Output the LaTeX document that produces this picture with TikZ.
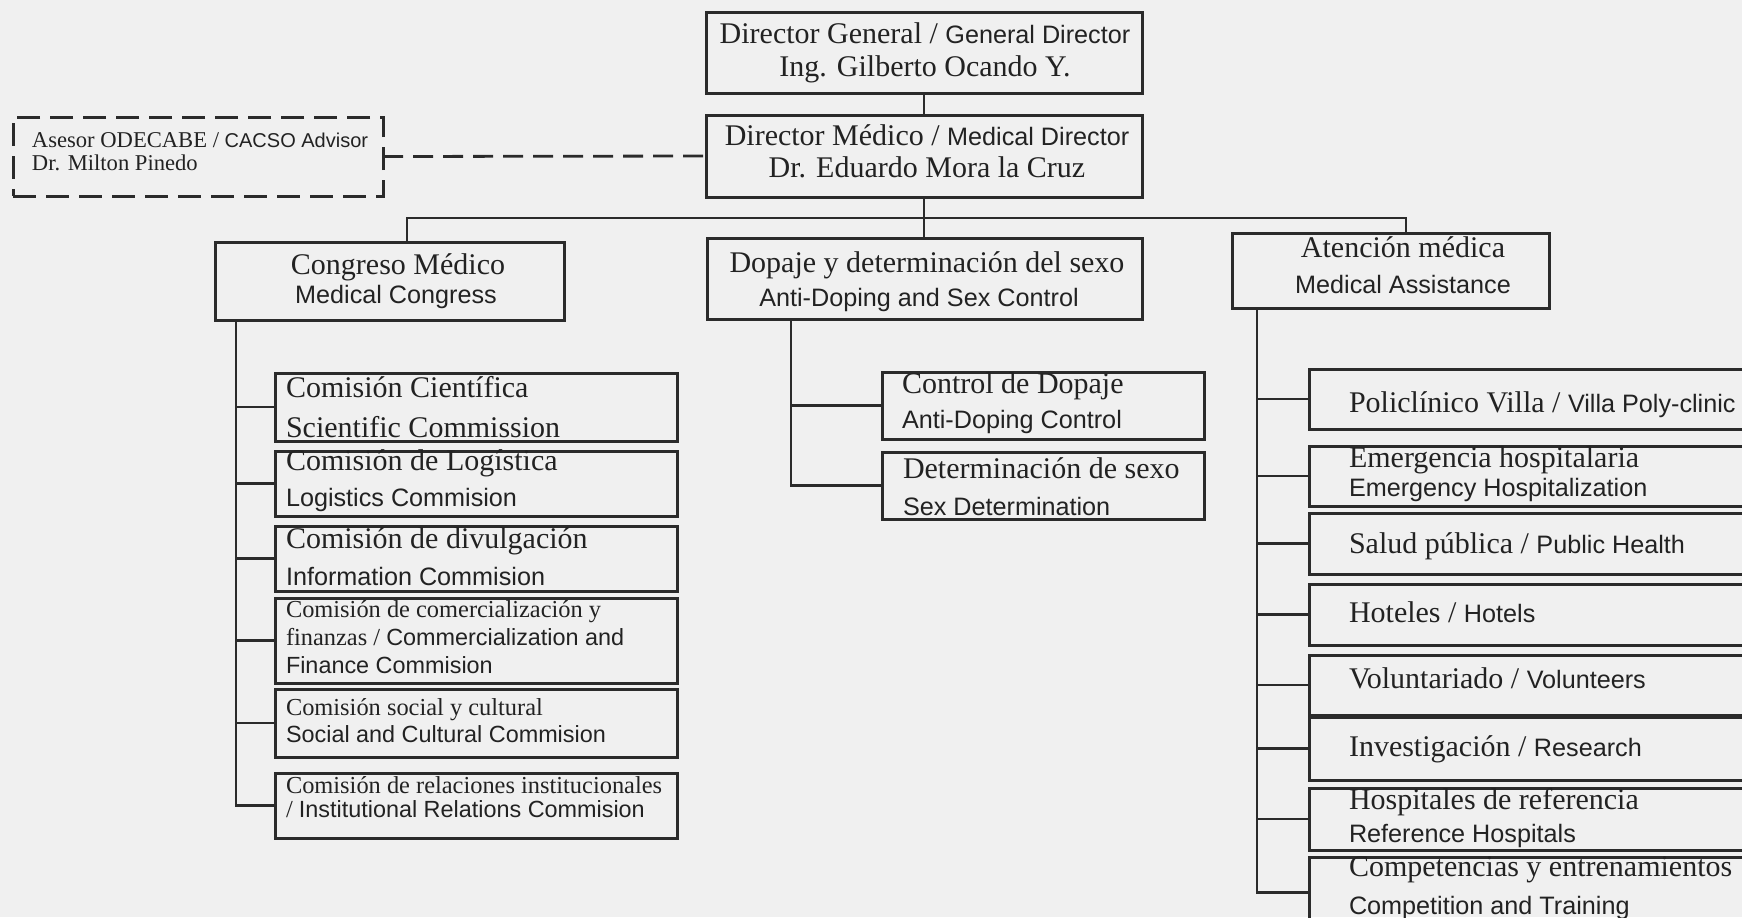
\documentclass[tikz,border=0pt]{standalone}
\usepackage{fontspec}
\setmainfont{Liberation Serif}
\setsansfont{Liberation Sans}
\usetikzlibrary{fit}
\definecolor{bg}{HTML}{F0F0F0}
\definecolor{ink}{HTML}{2B2B2B}
\definecolor{tink}{HTML}{222222}
\newcommand\fA{\fontsize{15}{18}\selectfont}
\newcommand\fB{\fontsize{12.2}{14}\selectfont}
\newcommand\fC{\fontsize{11.3}{13}\selectfont}
\newcommand\enA[1]{{\sffamily\fontsize{12.6}{15}\selectfont #1}}
\newcommand\enB[1]{{\sffamily\fontsize{11.7}{14}\selectfont #1}}
\newcommand\enC[1]{{\sffamily\fontsize{10}{12}\selectfont #1}}
\begin{document}
\begin{tikzpicture}[x=0.5pt,y=-0.5pt,
  box/.style={draw=ink, line width=1.5pt, inner sep=0pt, outer sep=0pt},
  dbox/.style={box, dash pattern=on 11.5pt off 5pt},
  conn/.style={draw=ink, line width=1.1pt},
  dconn/.style={draw=ink, line width=1.4pt, dash pattern=on 10pt off 5pt},
  txt/.style={text=tink, inner sep=0pt, outer sep=0pt}]
\path[use as bounding box, fill=bg] (0,0) rectangle (1742,917);
\clip (0,0) rectangle (1742,917);

% ---------- boxes ----------
\node[box,  fit={(706,12) (1142,93)}]   (gd)  {};
\node[box,  fit={(706,115) (1142,197)}] (md)  {};
\node[dbox, fit={(13,117) (383,196)}]   (adv) {};
\node[box,  fit={(215,242) (564,320)}]  (cong) {};
\node[box,  fit={(707,238) (1142,319)}] (dop) {};
\node[box,  fit={(1232,233) (1549,308)}] (at) {};

\node[box, fit={(275,373) (677,441)}] (cien) {};
\node[box, fit={(275,451) (677,516)}] (log) {};
\node[box, fit={(275,526) (677,591)}] (div) {};
\node[box, fit={(275,598) (677,683)}] (com) {};
\node[box, fit={(275,689) (677,757)}] (soc) {};
\node[box, fit={(275,773) (677,838)}] (rel) {};

\node[box, fit={(882,372) (1204,439)}] (ctl) {};
\node[box, fit={(882,452) (1204,519)}] (det) {};

\node[box, fit={(1309,369) (1760,429)}] (pol) {};
\node[box, fit={(1309,446) (1760,506)}] (eme) {};
\node[box, fit={(1309,513) (1760,574)}] (sal) {};
\node[box, fit={(1309,584) (1760,645)}] (hot) {};
\node[box, fit={(1309,655) (1760,715)}] (vol) {};
\node[box, fit={(1309,717) (1760,780)}] (inv) {};
\node[box, fit={(1309,788) (1760,850)}] (hos) {};
\node[box, fit={(1309,857) (1760,928)}] (cmp) {};

% ---------- connectors ----------
\draw[conn] (gd.south) -- (md.north);
\draw[dconn] (adv.east) -- (md.west);
\coordinate (busL) at (407,218);
\coordinate (busR) at (1406,218);
\draw[conn] (md.south) -- (md.south |- dop.north);
\draw[conn] (busL |- cong.north) -- (busL) -- (busR) -- (busR |- at.north);

\coordinate (spC) at (236,0);
\draw[conn] (spC |- cong.south) |- (rel.west);
\foreach \b in {cien,log,div,com,soc} \draw[conn] (spC |- \b.west) -- (\b.west);

\coordinate (spD) at (791,0);
\draw[conn] (spD |- dop.south) |- (det.west);
\draw[conn] (spD |- ctl.west) -- (ctl.west);

\coordinate (spA) at (1257,0);
\draw[conn] (spA |- at.south) |- (cmp.west);
\foreach \b in {pol,eme,sal,hot,vol,inv,hos} \draw[conn] (spA |- \b.west) -- (\b.west);

% ---------- texts ----------
\node[txt, anchor=base] (gdA) at (925,43) {\fA Director General / \enA{General Director}};
\node[txt, anchor=base] (gdB) at (925,76) {\fA Ing. Gilberto Ocando Y.};
\node[txt, anchor=base] (mdA) at (927,145) {\fA Director Médico / \enA{Medical Director}};
\node[txt, anchor=base] (mdB) at (927,177) {\fA Dr. Eduardo Mora la Cruz};

\node[txt, anchor=base west] (advA) at (32,147) {\fC Asesor ODECABE / \enC{CACSO Advisor}};
\node[txt, anchor=base west] (advB) at (32,170) {\fC Dr. Milton Pinedo};

\node[txt, anchor=base] (congA) at (398,274) {\fA Congreso Médico};
\node[txt, anchor=base] (congB) at (396,303) {\enA{Medical Congress}};
\node[txt, anchor=base] (dopA) at (927,272) {\fA Dopaje y determinación del sexo};
\node[txt, anchor=base] (dopB) at (919,306) {\enA{Anti-Doping and Sex Control}};
\node[txt, anchor=base] (atA) at (1403,257) {\fA Atención médica};
\node[txt, anchor=base] (atB) at (1403,293) {\enA{Medical Assistance}};

\node[txt, anchor=base west] (ctlA) at (902,393) {\fA Control de Dopaje};
\node[txt, anchor=base west] (ctlB) at (902,428) {\enA{Anti-Doping Control}};
\node[txt, anchor=base west] (detA) at (903,478) {\fA Determinación de sexo};
\node[txt, anchor=base west] (detB) at (903,515) {\enA{Sex Determination}};

\node[txt, anchor=base west] (cienA) at (286,397) {\fA Comisión Científica};
\node[txt, anchor=base west] (cienB) at (286,437) {\fA Scientific Commission};
\node[txt, anchor=base west] (logA) at (286,470) {\fA Comisión de Logística};
\node[txt, anchor=base west] (logB) at (286,506) {\enA{Logistics Commision}};
\node[txt, anchor=base west] (divA) at (286,548) {\fA Comisión de divulgación};
\node[txt, anchor=base west] (divB) at (286,585) {\enA{Information Commision}};
\node[txt, anchor=base west] (comA) at (286,617) {\fB Comisión de comercialización y};
\node[txt, anchor=base west] (comB) at (286,645) {\fB finanzas / \enB{Commercialization and}};
\node[txt, anchor=base west] (comC) at (286,673) {\enB{Finance Commision}};
\node[txt, anchor=base west] (socA) at (286,715) {\fB Comisión social y cultural};
\node[txt, anchor=base west] (socB) at (286,742) {\enB{Social and Cultural Commision}};
\node[txt, anchor=base west] (relA) at (286,793) {\fB Comisión de relaciones institucionales};
\node[txt, anchor=base west] (relB) at (286,817) {\fB / \enB{Institutional Relations Commision}};

\node[txt, anchor=base west] (polA) at (1349,412) {\fA Policlínico Villa / \enA{Villa Poly-clinic}};
\node[txt, anchor=base west] (emeA) at (1349,467) {\fA Emergencia hospitalaria};
\node[txt, anchor=base west] (emeB) at (1349,496) {\enA{Emergency Hospitalization}};
\node[txt, anchor=base west] (salA) at (1349,553) {\fA Salud pública / \enA{Public Health}};
\node[txt, anchor=base west] (hotA) at (1349,622) {\fA Hoteles / \enA{Hotels}};
\node[txt, anchor=base west] (volA) at (1349,688) {\fA Voluntariado / \enA{Volunteers}};
\node[txt, anchor=base west] (invA) at (1349,756) {\fA Investigación / \enA{Research}};
\node[txt, anchor=base west] (hosA) at (1349,809) {\fA Hospitales de referencia};
\node[txt, anchor=base west] (hosB) at (1349,842) {\enA{Reference Hospitals}};
\node[txt, anchor=base west] (cmpA) at (1349,876) {\fA Competencias y entrenamientos};
\node[txt, anchor=base west] (cmpB) at (1349,914) {\enA{Competition and Training}};
\end{tikzpicture}
\end{document}
